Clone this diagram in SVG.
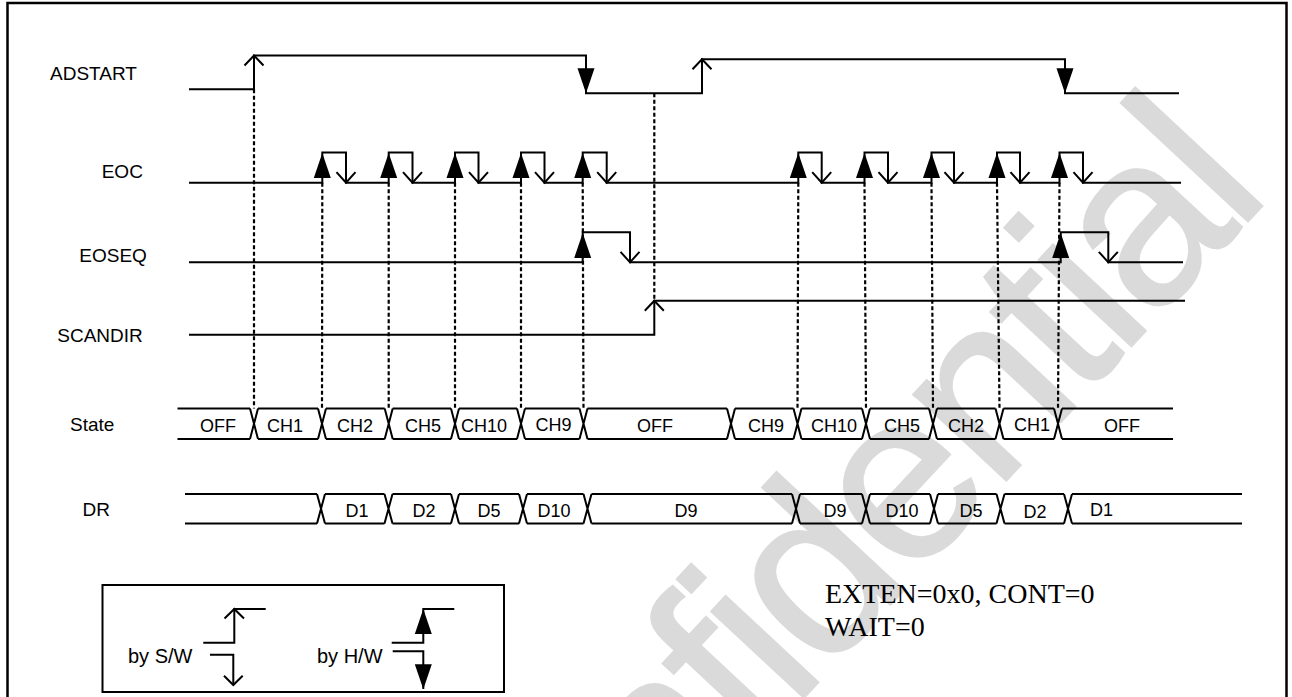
<svg xmlns="http://www.w3.org/2000/svg" xmlns:xlink="http://www.w3.org/1999/xlink" width="1292" height="697" viewBox="0 0 1292 697">
<style>
.sig{fill:none;stroke:#000;stroke-width:2}
.dash{fill:none;stroke:#000;stroke-width:2.2;stroke-dasharray:4 2.5}
.lbl{font-family:"Liberation Sans",Arial,sans-serif;font-size:19px;fill:#000}
.lg{font-family:"Liberation Sans",Arial,sans-serif;font-size:20px;fill:#000}
.bx{font-family:"Liberation Sans",Arial,sans-serif;font-size:18px;fill:#000;text-anchor:middle}
.note{font-family:"Liberation Serif","Times New Roman",serif;font-size:28px;fill:#000}
.wm{font-family:"Liberation Sans",Arial,sans-serif;font-size:240px;fill:#dadada;stroke:#dadada;stroke-width:2;letter-spacing:-8px}
</style>
<defs>
<polygon id="tu" points="0,0 -8.5,25 8.5,25" fill="#000"/>
<polygon id="td" points="0,0 -8.5,-25 8.5,-25" fill="#000"/>
<polyline id="ou" points="-9.5,10 0,0 9.5,10" fill="none" stroke="#000" stroke-width="2"/>
<polyline id="od" points="-9.5,-10.5 0,0 9.5,-10.5" fill="none" stroke="#000" stroke-width="2"/>
</defs>
<rect x="0" y="0" width="1292" height="697" fill="#fff"/>
<g id="watermark">
<text class="wm" transform="translate(1268,200) rotate(-47)" text-anchor="end">Confidential</text>
</g>
<rect id="frame" x="7.5" y="3" width="1279" height="710" fill="none" stroke="#000" stroke-width="2.5"/>
<g id="labels">
<text class="lbl" x="50" y="80">ADSTART</text>
<text class="lbl" x="101.7" y="178.3">EOC</text>
<text class="lbl" x="79.3" y="262">EOSEQ</text>
<text class="lbl" x="57.3" y="342">SCANDIR</text>
<text class="lbl" x="70" y="430.7">State</text>
<text class="lbl" x="82.5" y="515.7">DR</text>
</g>
<g id="connectors">
<path class="dash" d="M254 89.3 V408.5 M322.3 182.7 L322 408.5 M388.7 182.7 V408.5 M455 182.7 V408.5 M521 182.7 V408.5 M582.7 182.7 L583.5 408.5 M654.3 93.3 V300.7 M798.3 182.7 L797.5 408.5 M864.5 182.7 L866 408.5 M931.5 182.7 L933 408.5 M997 182.7 L999.5 408.5 M1059.5 182.7 L1058 408.5"/>
</g>
<g id="adstart">
<path class="sig" d="M189 89.3 H254 V55.5 H586 V93.3 H702 V59.3 H1065 V93.3 H1179"/>
<use xlink:href="#ou" x="254" y="55.5"/>
<use xlink:href="#td" x="586" y="93.3"/>
<use xlink:href="#ou" x="702" y="59.3"/>
<use xlink:href="#td" x="1065" y="93.3"/>
</g>
<g id="eoc">
<path class="sig" d="M189 182.7 H322.3 V152.5 H346 V182.7 H388.7 V152.5 H412.5 V182.7 H455 V152.5 H478.5 V182.7 H521 V152.5 H544.5 V182.7 H582.7 V152.5 H606.7 V182.7 H798.3 V152.5 H821.7 V182.7 H864.5 V152.5 H888 V182.7 H931.5 V152.5 H954 V182.7 H997 V152.5 H1020 V182.7 H1059.5 V152.5 H1083 V182.7 H1181"/>
<use xlink:href="#tu" x="322.3" y="153"/>
<use xlink:href="#tu" x="388.7" y="153"/>
<use xlink:href="#tu" x="455" y="153"/>
<use xlink:href="#tu" x="521" y="153"/>
<use xlink:href="#tu" x="582.7" y="153"/>
<use xlink:href="#tu" x="798.3" y="153"/>
<use xlink:href="#tu" x="864.5" y="153"/>
<use xlink:href="#tu" x="931.5" y="153"/>
<use xlink:href="#tu" x="997" y="153"/>
<use xlink:href="#tu" x="1059.5" y="153"/>
<use xlink:href="#od" x="346" y="182.7"/>
<use xlink:href="#od" x="412.5" y="182.7"/>
<use xlink:href="#od" x="478.5" y="182.7"/>
<use xlink:href="#od" x="544.5" y="182.7"/>
<use xlink:href="#od" x="606.7" y="182.7"/>
<use xlink:href="#od" x="821.7" y="182.7"/>
<use xlink:href="#od" x="888" y="182.7"/>
<use xlink:href="#od" x="954" y="182.7"/>
<use xlink:href="#od" x="1020" y="182.7"/>
<use xlink:href="#od" x="1083" y="182.7"/>
</g>
<g id="eoseq">
<path class="sig" d="M189 262.3 H582.7 V232.3 H630 V262.3 H1060.7 V232.3 H1108.3 V262.3 H1183"/>
<use xlink:href="#tu" x="582.7" y="233"/>
<use xlink:href="#tu" x="1060.7" y="233"/>
<use xlink:href="#od" x="630" y="262.3"/>
<use xlink:href="#od" x="1108.3" y="262.3"/>
</g>
<g id="scandir">
<path class="sig" d="M189 334.7 H654.3 V300.7 H1185"/>
<use xlink:href="#ou" x="654.3" y="300.7"/>
</g>
<g id="state">
<path class="sig" d="M177.5 408.5 H250 M258 408.5 H318 M326 408.5 H384.7 M392.7 408.5 H451 M459 408.5 H517 M525 408.5 H579.5 M587.5 408.5 H727 M735 408.5 H793.5 M801.5 408.5 H862 M870 408.5 H929 M937 408.5 H995.5 M1003.5 408.5 H1054 M1062 408.5 H1173
M177.5 439 H250 M258 439 H318 M326 439 H384.7 M392.7 439 H451 M459 439 H517 M525 439 H579.5 M587.5 439 H727 M735 439 H793.5 M801.5 439 H862 M870 439 H929 M937 439 H995.5 M1003.5 439 H1054 M1062 439 H1173
M250 408.5 L258 439 M250 439 L258 408.5
M318 408.5 L326 439 M318 439 L326 408.5
M384.7 408.5 L392.7 439 M384.7 439 L392.7 408.5
M451 408.5 L459 439 M451 439 L459 408.5
M517 408.5 L525 439 M517 439 L525 408.5
M579.5 408.5 L587.5 439 M579.5 439 L587.5 408.5
M727 408.5 L735 439 M727 439 L735 408.5
M793.5 408.5 L801.5 439 M793.5 439 L801.5 408.5
M862 408.5 L870 439 M862 439 L870 408.5
M929 408.5 L937 439 M929 439 L937 408.5
M995.5 408.5 L1003.5 439 M995.5 439 L1003.5 408.5
M1054 408.5 L1062 439 M1054 439 L1062 408.5"/>
<text class="bx" x="218" y="432">OFF</text>
<text class="bx" x="285" y="432">CH1</text>
<text class="bx" x="355" y="432">CH2</text>
<text class="bx" x="423" y="432">CH5</text>
<text class="bx" x="484" y="432">CH10</text>
<text class="bx" x="553.5" y="431">CH9</text>
<text class="bx" x="655" y="432">OFF</text>
<text class="bx" x="766" y="432">CH9</text>
<text class="bx" x="834" y="432">CH10</text>
<text class="bx" x="902" y="432">CH5</text>
<text class="bx" x="966" y="432">CH2</text>
<text class="bx" x="1032" y="431">CH1</text>
<text class="bx" x="1122" y="432">OFF</text>
</g>
<g id="dr">
<path class="sig" d="M185 494 H317 M325 494 H384.5 M392.5 494 H451 M459 494 H519 M527 494 H583.5 M591.5 494 H792 M800 494 H862 M870 494 H930 M938 494 H996.5 M1004.5 494 H1064 M1072 494 H1242
M185 523.5 H317 M325 523.5 H384.5 M392.5 523.5 H451 M459 523.5 H519 M527 523.5 H583.5 M591.5 523.5 H792 M800 523.5 H862 M870 523.5 H930 M938 523.5 H996.5 M1004.5 523.5 H1064 M1072 523.5 H1242
M317 494 L325 523.5 M317 523.5 L325 494
M384.5 494 L392.5 523.5 M384.5 523.5 L392.5 494
M451 494 L459 523.5 M451 523.5 L459 494
M519 494 L527 523.5 M519 523.5 L527 494
M583.5 494 L591.5 523.5 M583.5 523.5 L591.5 494
M792 494 L800 523.5 M792 523.5 L800 494
M862 494 L870 523.5 M862 523.5 L870 494
M930 494 L938 523.5 M930 523.5 L938 494
M996.5 494 L1004.5 523.5 M996.5 523.5 L1004.5 494
M1064 494 L1072 523.5 M1064 523.5 L1072 494"/>
<text class="bx" x="357" y="517">D1</text>
<text class="bx" x="424" y="517">D2</text>
<text class="bx" x="489" y="517">D5</text>
<text class="bx" x="554" y="517">D10</text>
<text class="bx" x="686" y="517">D9</text>
<text class="bx" x="835" y="517">D9</text>
<text class="bx" x="902" y="517">D10</text>
<text class="bx" x="971" y="517">D5</text>
<text class="bx" x="1035" y="517.5">D2</text>
<text class="bx" x="1101.5" y="516">D1</text>
</g>
<g id="legend">
<rect x="102.5" y="585" width="401.5" height="107" fill="none" stroke="#000" stroke-width="2"/>
<text class="lg" x="128" y="663">by S/W</text>
<text class="lg" x="317" y="663">by H/W</text>
<path class="sig" d="M203.3 642.7 H234.3 V609 H265.7 M210 654.7 H233.3 V685"/>
<polyline points="224.5,618.5 234.3,609 244,618.5" fill="none" stroke="#000" stroke-width="2"/>
<polyline points="224,675.7 233.3,685 242.7,675.7" fill="none" stroke="#000" stroke-width="2"/>
<path class="sig" d="M391.7 642.7 H423.3 V609 H454.3 M392.7 651.3 H423.3 V689"/>
<use xlink:href="#tu" x="423.3" y="609"/>
<use xlink:href="#td" x="423.3" y="689.3"/>
</g>
<g id="notes">
<text class="note" x="825" y="603">EXTEN=0x0, CONT=0</text>
<text class="note" x="825" y="636">WAIT=0</text>
</g>
</svg>
